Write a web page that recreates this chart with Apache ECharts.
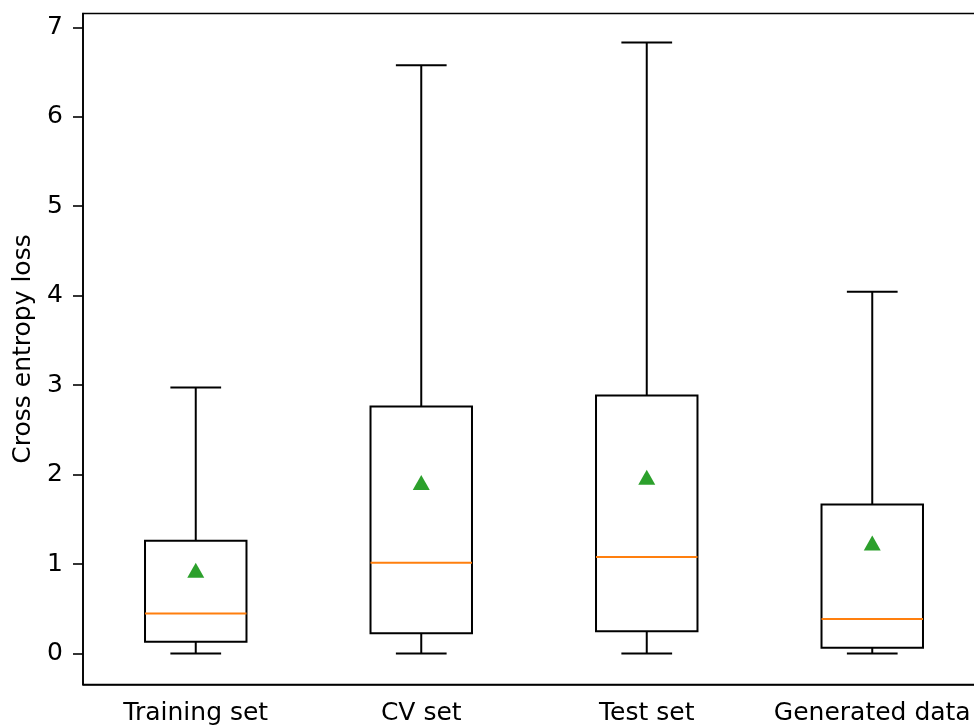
<!DOCTYPE html>
<html>
<head>
<meta charset="utf-8">
<script src="https://cdn.jsdelivr.net/npm/echarts@6/dist/echarts.min.js"></script>
<style>
  html, body { margin: 0; padding: 0; background: #fff; }
  #chart { width: 974px; height: 726px; }
</style>
</head>
<body>
<div id="chart"></div>
<script>
// Loss distribution per data set
const categories = ['Training set', 'CV set', 'Test set', 'Generated data'];
const whiskerLow = [0, 0, 0, 0];
const quartile1 = [0.13, 0.227, 0.249, 0.063];
const medians = [0.447, 1.014, 1.077, 0.384];
const quartile3 = [1.259, 2.762, 2.885, 1.666];
const whiskerHigh = [2.974, 6.575, 6.83, 4.043];
const means = [0.93, 1.91, 1.97, 1.235];
const yTicks = [0, 1, 2, 3, 4, 5, 6, 7];

const boxData = categories.map((c, i) =>
  [i, whiskerLow[i], quartile1[i], medians[i], quartile3[i], whiskerHigh[i]]);
const meanData = categories.map((c, i) => [i, means[i]]);

const FONT = 'DejaVu Sans';
const LW = 2;

function renderBox(params, api) {
  const i = api.value(0);
  const band = api.size([1, 0])[0];
  const half = band * 0.45 / 2;
  const capHalf = half / 2;
  const pLo = api.coord([i, api.value(1)]);
  const pQ1 = api.coord([i, api.value(2)]);
  const pMed = api.coord([i, api.value(3)]);
  const pQ3 = api.coord([i, api.value(4)]);
  const pHi = api.coord([i, api.value(5)]);
  const x = pLo[0];
  const black = { stroke: '#000', lineWidth: LW, fill: null };
  const line = (x1, y1, x2, y2, style) => ({
    type: 'line', shape: { x1, y1, x2, y2 }, style
  });
  return {
    type: 'group',
    children: [
      line(x, pQ1[1], x, pLo[1], black),
      line(x, pQ3[1], x, pHi[1], black),
      line(x - capHalf, pLo[1], x + capHalf, pLo[1], black),
      line(x - capHalf, pHi[1], x + capHalf, pHi[1], black),
      {
        type: 'rect',
        shape: { x: x - half, y: pQ3[1], width: half * 2, height: pQ1[1] - pQ3[1] },
        style: black
      },
      line(x - half, pMed[1], x + half, pMed[1], { stroke: '#ff7f0e', lineWidth: LW })
    ]
  };
}

const chart = echarts.init(document.getElementById('chart'), null, { renderer: 'canvas' });
chart.setOption({
  backgroundColor: '#fff',
  animation: false,
  grid: {
    left: 83, top: 13.5, width: 902, height: 671,
    outerBoundsMode: 'none',
    containLabel: false,
    show: true, borderColor: '#000', borderWidth: 1.6, backgroundColor: 'transparent'
  },
  xAxis: {
    type: 'category',
    data: categories,
    boundaryGap: true,
    axisLine: { onZero: false, lineStyle: { color: '#000', width: 1.6 } },
    axisTick: { alignWithLabel: true, length: 10, lineStyle: { color: '#000', width: 1.6 } },
    axisLabel: { interval: 0, hideOverlap: false, color: '#000', fontFamily: FONT, fontSize: 25, margin: 16 },
    splitLine: { show: false }
  },
  yAxis: {
    type: 'value',
    min: -0.347,
    max: 7.154,
    name: 'Cross entropy loss',
    nameLocation: 'middle',
    nameGap: 47,
    nameRotate: 90,
    nameTextStyle: { color: '#000', fontFamily: FONT, fontSize: 25 },
    axisLine: { show: true, lineStyle: { color: '#000', width: 1.6 } },
    axisTick: { show: true, length: 10, customValues: yTicks, lineStyle: { color: '#000', width: 1.6 } },
    axisLabel: { color: '#000', fontFamily: FONT, fontSize: 25, margin: 20, customValues: yTicks },
    splitLine: { show: false }
  },
  series: [
    {
      type: 'custom',
      renderItem: renderBox,
      data: boxData,
      encode: { x: 0, y: [1, 2, 3, 4, 5] },
      z: 2
    },
    {
      type: 'scatter',
      data: meanData,
      symbol: 'triangle',
      symbolSize: [17, 15],
      itemStyle: { color: '#2ca02c', opacity: 1 },
      z: 3
    }
  ]
});
</script>
</body>
</html>
